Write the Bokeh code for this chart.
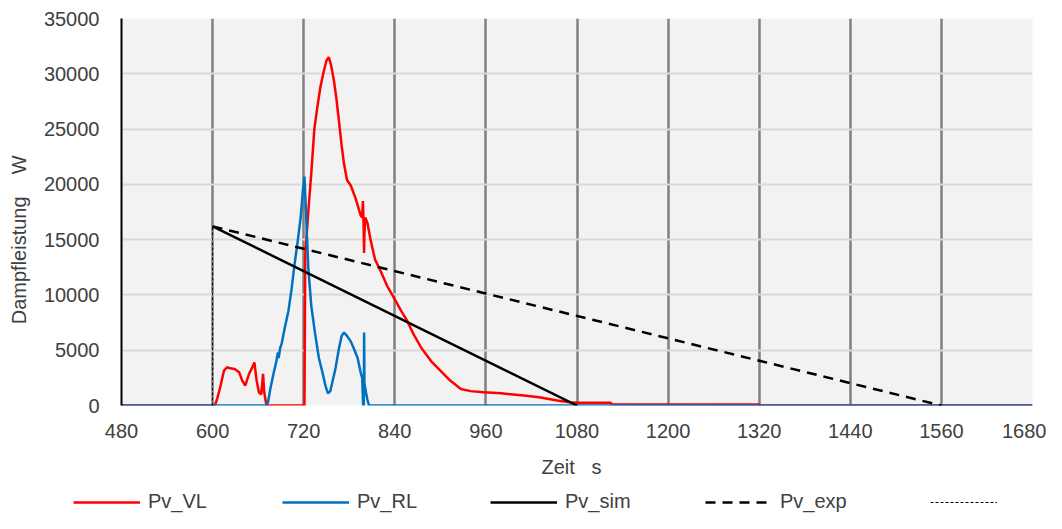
from bokeh.plotting import figure
from bokeh.models import FixedTicker, Legend, LegendItem, Range1d
from bokeh.layouts import column
from bokeh.embed import file_html
from bokeh.resources import INLINE

# ---- data ----
vl_t = [480, 600, 603, 606, 610, 615, 619, 623, 629, 635, 639, 643, 648, 652, 655, 658, 661, 664,
        666.5, 668, 671, 720, 721, 722, 726, 730, 734, 738, 742, 746, 750, 753, 756, 760, 763, 766,
        770, 773, 777, 782, 788, 792, 795, 797, 798, 799, 799.5, 800, 801, 804, 808, 814, 821, 830,
        840, 848, 856, 865, 875, 888, 900, 913, 927, 940, 957, 980, 1010, 1030, 1054, 1070, 1080,
        1124, 1126, 1320, 1322, 1680]
vl_w = [0, 0, 0, 600, 1650, 3160, 3460, 3360, 3300, 3000, 2260, 1800, 2860, 3400, 3900, 2260, 1200, 1000,
        2870, 1200, 0, 0, 0, 13500, 17500, 21000, 25000, 27000, 28800, 30100, 31200, 31500, 30800, 29300, 27800, 26000,
        23500, 21900, 20400, 19900, 18800, 17900, 17200, 17000, 18500, 16000, 13800, 15500, 17000, 16500, 15000, 13200, 12200, 10800,
        9600, 8600, 7700, 6400, 5200, 4000, 3150, 2260, 1500, 1300, 1200, 1100, 900, 750, 450, 300, 250,
        250, 120, 100, 0, 0]

rl_t = [480, 671, 673, 676, 680, 684, 686, 687, 689, 691, 695, 700, 704, 708, 712, 716, 719, 721, 723, 726,
        730, 735, 740, 745, 749, 752, 755, 758, 762, 766, 770, 773, 777, 782, 787, 791, 795, 797, 798.3, 799.2,
        799.6, 800, 802, 804, 806, 1680]
rl_w = [0, 0, 300, 1500, 2800, 4000, 4800, 4300, 5200, 5600, 7000, 8600, 10500, 12800, 14800, 17000, 19500, 20700, 17500, 12500,
        9000, 6500, 4300, 2900, 1700, 1100, 1300, 2200, 3400, 5000, 6300, 6600, 6300, 5800, 5000, 4300, 3000, 2500, 0, 0,
        6600, 2000, 1200, 500, 0, 0]

sim_t = [600, 1080]
sim_w = [16200, 0]
exp_t = [600, 1560]
exp_w = [16200, 0]
mark_t = [600, 600]
mark_w = [0, 16200]

x_ticks = [480, 600, 720, 840, 960, 1080, 1200, 1320, 1440, 1560, 1680]
y_ticks = [0, 5000, 10000, 15000, 20000, 25000, 30000, 35000]
labels = ["Pv_VL", "Pv_RL", "Pv_sim", "Pv_exp", "\u00a0"]

FONT = "Liberation Sans"
TXT = "#404040"
NB = "\u00a0"

styles = [
    dict(line_color="#ff0000", line_width=2.5),
    dict(line_color="#0070c0", line_width=2.5),
    dict(line_color="black", line_width=2.5),
    dict(line_color="black", line_width=2.5, line_dash="10 7"),
    dict(line_color="black", line_width=1, line_dash="3 2"),
]

p = figure(width=1046, height=490, output_backend="svg", toolbar_location=None,
           x_range=Range1d(480, 1680), y_range=Range1d(0, 35000),
           min_border_left=121, min_border_right=14, min_border_top=18, min_border_bottom=85)
p.background_fill_color = "#f2f2f2"
p.border_fill_color = "white"
p.outline_line_color = None

p.xaxis.ticker = FixedTicker(ticks=x_ticks)
p.yaxis.ticker = FixedTicker(ticks=y_ticks)

p.xgrid.grid_line_color = "#808080"
p.xgrid.grid_line_width = 2.5
p.ygrid.grid_line_color = "#d9d9d9"
p.ygrid.grid_line_width = 2

for ax in (p.xaxis[0], p.yaxis[0]):
    ax.major_tick_line_color = None
    ax.minor_tick_line_color = None
    ax.major_tick_out = 0
    ax.major_tick_in = 0
    ax.major_label_text_font = FONT
    ax.major_label_text_font_size = "20px"
    ax.major_label_text_color = TXT
    ax.axis_label_text_font = FONT
    ax.axis_label_text_font_size = "20px"
    ax.axis_label_text_font_style = "normal"
    ax.axis_label_text_color = TXT

p.xaxis.axis_line_color = None
p.yaxis.axis_line_color = "black"
p.yaxis.axis_line_width = 2
p.xaxis.major_label_standoff = 18
p.yaxis.major_label_standoff = 22
p.xaxis.axis_label_standoff = 15
p.yaxis.axis_label_standoff = 11
p.xaxis.axis_label = "Zeit" + NB * 3 + "s" + NB * 2
p.yaxis.axis_label = "Dampfleistung" + NB * 4 + "W" + NB * 10

series = [(vl_t, vl_w), (rl_t, rl_w), (sim_t, sim_w), (exp_t, exp_w), (mark_t, mark_w)]
for (t, w), st in zip(series, styles):
    p.line(t, w, **st)

# legend strip below the chart (same series, drawn off-range so only the legend shows)
leg = figure(width=1046, height=23, output_backend="svg", toolbar_location=None,
             x_range=Range1d(0, 1), y_range=Range1d(0, 1),
             x_axis_type=None, y_axis_type=None,
             min_border_left=0, min_border_right=0, min_border_top=0, min_border_bottom=0)
leg.outline_line_color = None
leg.background_fill_color = "white"
leg.border_fill_color = "white"
leg.xgrid.visible = False
leg.ygrid.visible = False

offset = 121
if "frame_align" in leg.properties():
    leg.frame_align = False
    offset = 0

glyph_x = [73, 282, 490, 705, 930]
for lab, (t, w), st, gx in zip(labels, series, styles, glyph_x):
    r = leg.line(t, w, **st)
    lg = Legend(items=[LegendItem(label=lab, renderers=[r])],
                location=(gx - offset, 0), orientation="horizontal",
                padding=0, margin=0, spacing=0, glyph_width=67, glyph_height=20,
                label_standoff=8, label_height=20,
                border_line_color=None, background_fill_alpha=0,
                label_text_font=FONT, label_text_font_size="20px", label_text_color=TXT)
    leg.add_layout(lg, "center")

layout = column(p, leg, spacing=0)
open("out.html", "w").write(file_html(layout, INLINE))
